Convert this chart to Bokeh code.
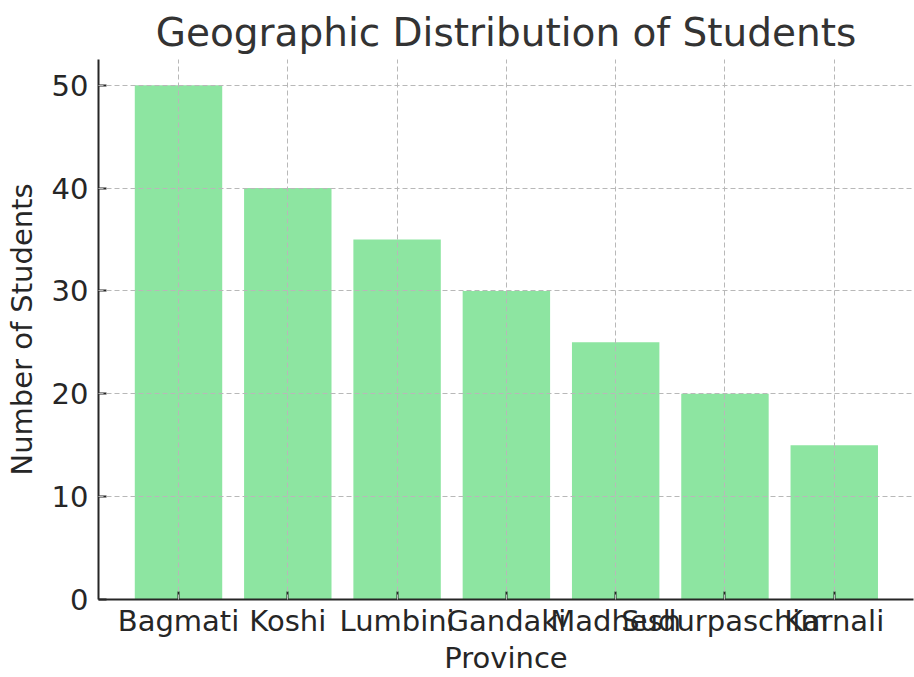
from bokeh.plotting import figure
from bokeh.models import Range1d, FixedTicker, ColumnDataSource
from bokeh.embed import file_html
from bokeh.resources import INLINE

provinces = ["Bagmati", "Koshi", "Lumbini", "Gandaki", "Madhesh", "Sudurpaschim", "Karnali"]
students = [50, 40, 35, 30, 25, 20, 15]
y_ticks = [0, 10, 20, 30, 40, 50]

xs = list(range(len(provinces)))
src = ColumnDataSource(dict(x=xs, top=students))

FONT = "DejaVu Sans"
DARK = "#262626"

p = figure(output_backend="svg", toolbar_location=None,
           x_range=Range1d(-0.732, 6.725), y_range=Range1d(0, 52.5),
           frame_width=815, frame_height=540,
           min_border_left=98, min_border_top=59, min_border_right=1, min_border_bottom=0,
           title="Geographic Distribution of Students")

p.vbar(x="x", top="top", width=0.8, source=src, fill_color="#8de5a1", line_color=None)

p.title.text_font = FONT
p.title.text_font_size = "39px"
p.title.text_font_style = "normal"
p.title.text_color = "#333333"
p.title.align = "center"

p.outline_line_color = None
p.background_fill_color = "white"
p.border_fill_color = "white"

for ax in (p.xaxis[0], p.yaxis[0]):
    ax.major_label_text_font = FONT
    ax.major_label_text_font_size = "29px"
    ax.major_label_text_color = DARK
    ax.axis_label_text_font = FONT
    ax.axis_label_text_font_size = "29px"
    ax.axis_label_text_font_style = "normal"
    ax.axis_label_text_color = DARK
    ax.axis_line_color = DARK
    ax.axis_line_width = 2
    ax.major_tick_line_color = DARK
    ax.major_tick_line_width = 2
    ax.major_tick_in = 8
    ax.major_tick_out = 0
    ax.minor_tick_line_color = None

p.xaxis[0].ticker = FixedTicker(ticks=xs)
p.xaxis[0].major_label_overrides = {i: name for i, name in enumerate(provinces)}
p.xaxis[0].axis_label = "Province"
p.xaxis[0].major_label_standoff = 4
p.xaxis[0].axis_label_standoff = 0

p.yaxis[0].ticker = FixedTicker(ticks=y_ticks)
p.yaxis[0].axis_label = "Number of Students"
p.yaxis[0].major_label_standoff = 10
p.yaxis[0].axis_label_standoff = 10

for g in (p.xgrid[0], p.ygrid[0]):
    g.grid_line_color = "#b8b8b8"
    g.grid_line_dash = "5 3"
    g.grid_line_width = 1
    g.level = "annotation"

open("out.html", "w").write(file_html(p, INLINE))
